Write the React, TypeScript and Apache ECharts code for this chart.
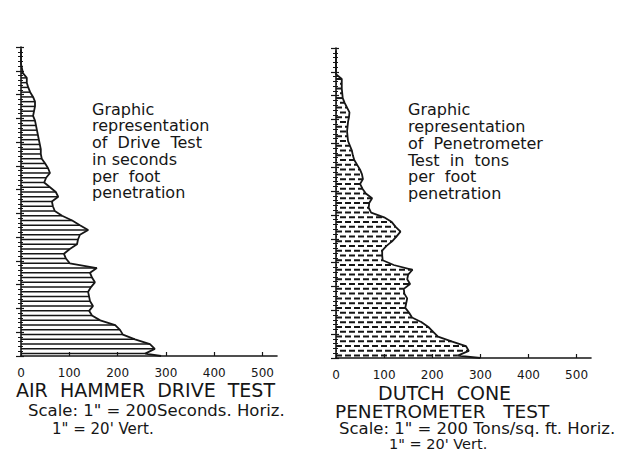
import React, { useEffect, useRef } from "react";
import * as echarts from "echarts";

// Depth in feet (1 bar per foot), 0 at top
const depthFeet = 65;
const xTicks = [0, 100, 200, 300, 400, 500];
const xMax = 530;

// Air hammer drive test: seconds per foot penetration, depth 0..64 ft
const driveSeconds = [
  0, 0, 0, 0, 2,
  4, 12, 12, 15, 19,
  25, 29, 29, 27, 25,
  29, 31, 33, 35, 37,
  39, 41, 41, 43, 50,
  56, 60, 52, 48, 60,
  72, 77, 64, 66, 70,
  85, 106, 122, 139, 122,
  118, 116, 101, 89, 93,
  101, 157, 143, 147, 153,
  145, 139, 141, 143, 149,
  141, 147, 164, 195, 205,
  211, 236, 267, 277, 257,
];

// Dutch cone penetrometer test: tons per foot penetration, depth 0..64 ft
const coneTons = [
  0, 0, 0, 0, 0,
  0, 12, 12, 12, 13,
  14, 18, 23, 28, 27,
  25, 24, 23, 24, 25,
  29, 33, 35, 38, 44,
  50, 54, 56, 50, 55,
  62, 75, 69, 68, 73,
  100, 116, 124, 134, 126,
  117, 105, 96, 96, 97,
  120, 159, 150, 148, 154,
  141, 142, 148, 146, 144,
  152, 158, 178, 192, 202,
  212, 240, 270, 276, 253,
];

const driveTail = 290;
const coneTail = 300;

const annotationLeft = [
  "Graphic",
  "representation",
  "of  Drive  Test",
  "in seconds",
  "per  foot",
  "penetration",
];
const annotationRight = [
  "Graphic",
  "representation",
  "of  Penetrometer",
  "Test  in  tons",
  "per  foot",
  "penetration",
];

const INK = "#161616";
const FONT = '"DejaVu Sans", "Liberation Sans", sans-serif';

function txt(text: string, x: number, y: number, size: number, lh: number, va = "middle") {
  return {
    type: "text",
    x,
    y,
    silent: true,
    style: {
      text,
      fill: INK,
      font: `${size}px ${FONT}`,
      lineHeight: lh,
      verticalAlign: va,
      align: "left",
    },
  };
}

function stripeSeries(values: number[], idx: number, dashed: boolean) {
  return {
    type: "custom",
    xAxisIndex: idx,
    yAxisIndex: idx * 2,
    silent: true,
    encode: { x: 0, y: 1 },
    data: values.map((v, i) => [v, i + 0.5, i]),
    renderItem: (params: any, api: any) => {
      const v = api.value(0);
      const d = api.value(1);
      const i = api.value(2);
      if (v <= 0) return null;
      const p0 = api.coord([0, d]);
      const p1 = api.coord([v, d]);
      return {
        type: "line",
        shape: { x1: p0[0], y1: p0[1], x2: p1[0], y2: p1[1] },
        style: {
          stroke: INK,
          lineWidth: dashed ? 2 : 1.5,
          lineDash: dashed ? [6, 3] : null,
          lineDashOffset: dashed ? (i % 2) * 4.5 : 0,
        },
      };
    },
  };
}

function outlineSeries(values: number[], idx: number, tail: number) {
  const pts: number[][] = values.map((v, i) => [v, i + 0.5]);
  pts.push([tail, depthFeet]);
  return {
    type: "line",
    xAxisIndex: idx,
    yAxisIndex: idx * 2,
    silent: true,
    symbol: "none",
    data: pts,
    lineStyle: { color: INK, width: 1.8 },
    z: 5,
  };
}

function xAxisCfg(gridIndex: number) {
  return {
    type: "value",
    gridIndex,
    position: "bottom",
    min: 0,
    max: xMax,
    interval: 100,
    axisLine: { show: true, onZero: false, lineStyle: { color: INK, width: 1.6 } },
    axisTick: {
      show: true,
      inside: true,
      length: 4,
      customValues: xTicks,
      lineStyle: { color: INK, width: 1.2 },
    },
    axisLabel: {
      customValues: xTicks,
      margin: 11,
      color: INK,
      fontFamily: FONT,
      fontSize: 12,
    },
    splitLine: { show: false },
  };
}

function yAxisCfg(gridIndex: number, inside: boolean) {
  return {
    type: "value",
    gridIndex,
    position: "left",
    offset: 0,
    inverse: true,
    min: 0,
    max: depthFeet,
    interval: 5,
    axisLine: { show: !inside, onZero: false, lineStyle: { color: INK, width: 1.6 } },
    axisTick: {
      show: true,
      inside,
      length: inside ? 3 : 5,
      lineStyle: { color: INK, width: 1.2 },
    },
    minorTick: {
      show: true,
      splitNumber: 5,
      length: inside ? 2 : 3,
      lineStyle: { color: INK, width: 1 },
    },
    axisLabel: { show: false },
    splitLine: { show: false },
    minorSplitLine: { show: false },
  };
}

export default function App() {
  const ref = useRef<HTMLDivElement>(null);
  useEffect(() => {
    if (!ref.current) return;
    const chart = echarts.init(ref.current, undefined, { renderer: "svg" });
    const graphics: any[] = [];
    graphics.push(txt(annotationLeft.join("\n"), 92, 100.6, 16, 16.8, "top"));
    graphics.push(txt(annotationRight.join("\n"), 408, 101.6, 16, 16.7, "top"));
    graphics.push(txt("AIR  HAMMER  DRIVE  TEST", 16, 390, 19, 18));
    graphics.push(txt('Scale: 1" = 200Seconds. Horiz.', 28, 410, 16.5, 17));
    graphics.push(txt("1\" = 20' Vert.", 52, 429, 15, 16));
    graphics.push(txt("DUTCH  CONE", 378, 393, 19, 16));
    graphics.push(txt("PENETROMETER   TEST", 335, 411, 18.5, 16));
    graphics.push(txt('Scale: 1" = 200 Tons/sq. ft. Horiz.', 339, 428, 16.5, 15));
    graphics.push(txt("1\" = 20' Vert.", 389, 444, 14.5, 14));

    chart.setOption({
      animation: false,
      backgroundColor: "#ffffff",
      grid: [
        { left: 21, top: 47, width: 256, height: 309 },
        { left: 336, top: 48, width: 255, height: 310 },
      ],
      xAxis: [xAxisCfg(0), xAxisCfg(1)],
      yAxis: [yAxisCfg(0, false), yAxisCfg(0, true), yAxisCfg(1, false), yAxisCfg(1, true)],
      series: [
        stripeSeries(driveSeconds, 0, false),
        outlineSeries(driveSeconds, 0, driveTail),
        stripeSeries(coneTons, 1, true),
        outlineSeries(coneTons, 1, coneTail),
      ],
      graphic: graphics,
    });
    return () => chart.dispose();
  }, []);
  return (
    <div
      ref={ref}
      style={{ position: "absolute", left: 0, top: 0, width: 642, height: 452 }}
    />
  );
}
